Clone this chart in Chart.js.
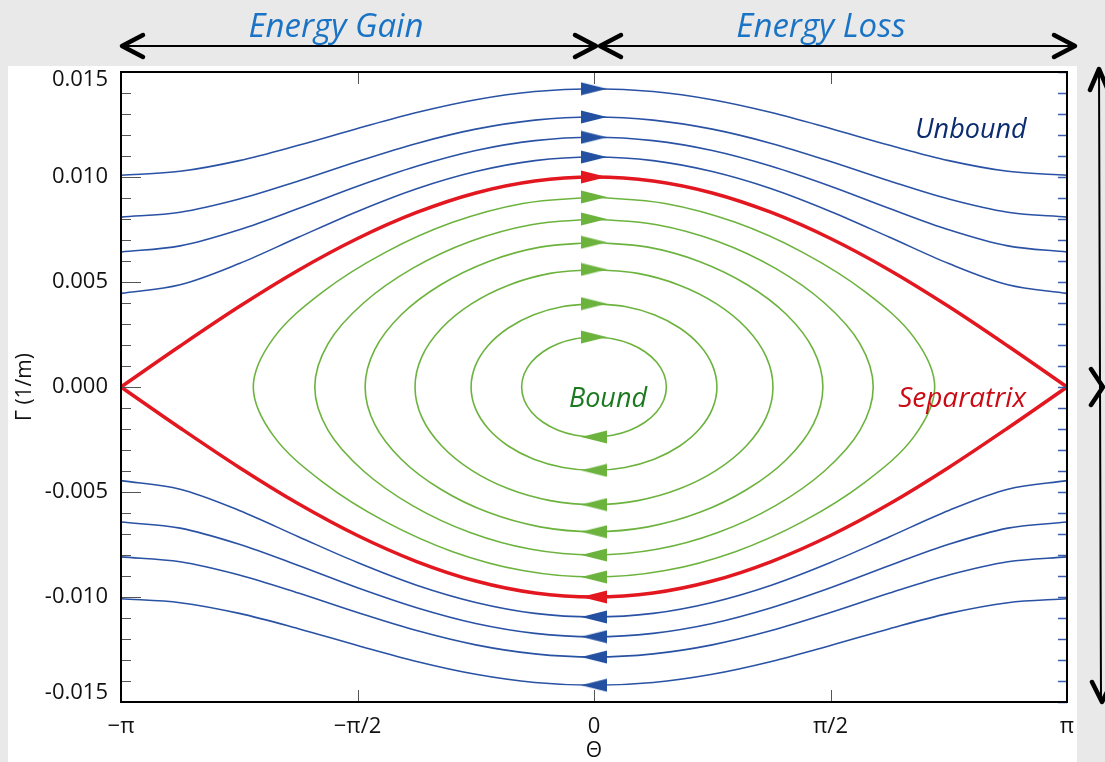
<!DOCTYPE html>
<html>
<head>
<meta charset="utf-8">
<title>Pendulum phase space</title>
<script src="https://cdn.jsdelivr.net/npm/chart.js@4.4.1/dist/chart.umd.min.js"></script>
<style>
  html, body { margin: 0; padding: 0; background: #e9e9e9; }
  #wrap { position: relative; width: 1105px; height: 762px; overflow: hidden; }
  #wrap canvas { position: absolute; left: 0; top: 0; }
  .note { position: absolute; transform: translate(-50%, -50%); font-family: 'Open Sans', sans-serif;
          font-style: italic; white-space: nowrap; line-height: 1; }
</style>
</head>
<body>
<div id="wrap">
  <canvas id="phase" width="1105" height="762"></canvas>
  <div class="note" style="left:336px;top:24px;font-size:33px;color:#1a73c4">Energy Gain</div>
  <div class="note" style="left:821px;top:24px;font-size:33px;color:#1a73c4">Energy Loss</div>
  <div class="note" style="left:971px;top:127px;font-size:27px;color:#0c2b70">Unbound</div>
  <div class="note" style="left:608px;top:396px;font-size:27px;color:#1b7a20">Bound</div>
  <div class="note" style="left:962px;top:396px;font-size:28px;color:#cc0a14">Separatrix</div>
</div>
<script>
// axis ticks (x in units of pi)
const xTickValues = [-1, -0.5, 0, 0.5, 1];
const xTickLabels = ['\u2212\u03c0', '\u2212\u03c0/2', '0', '\u03c0/2', '\u03c0'];
const yTickValues = [-0.015, -0.01, -0.005, 0, 0.005, 0.01, 0.015];
const yMinorStep = 0.001;

// unbound + separatrix curves: Gamma read at theta = 0, pi/8 ... pi (same on the -theta side)
const thetaHalf = [0, 0.125, 0.25, 0.375, 0.5, 0.625, 0.75, 0.875, 1];
const unbound = [
  [0.01420, 0.01407, 0.01368, 0.01307, 0.01231, 0.01151, 0.01078, 0.01027, 0.01008],
  [0.01286, 0.01271, 0.01228, 0.01160, 0.01074, 0.00981, 0.00895, 0.00832, 0.00809],
  [0.01189, 0.01173, 0.01126, 0.01051, 0.00956, 0.00850, 0.00749, 0.00672, 0.00643],
  [0.01095, 0.01078, 0.01026, 0.00944, 0.00836, 0.00713, 0.00588, 0.00487, 0.00446]
];
const separatrix = [0.01000, 0.00981, 0.00924, 0.00831, 0.00707, 0.00556, 0.00383, 0.00195, 0];

// bound orbits: one quarter (top -> right end) of each closed loop
const boundTheta = [
  [0, 0.1505, 0.2989, 0.4421, 0.5734, 0.6772, 0.7203],
  [0, 0.1328, 0.2620, 0.3828, 0.4873, 0.5622, 0.5903],
  [0, 0.1141, 0.2239, 0.3240, 0.4070, 0.4636, 0.4839],
  [0, 0.0926, 0.1807, 0.2592, 0.3223, 0.3639, 0.3784],
  [0, 0.0655, 0.1272, 0.1812, 0.2234, 0.2505, 0.2599],
  [0, 0.0392, 0.0759, 0.1077, 0.1322, 0.1477, 0.1530]
];
const boundGamma = [
  [0.00905, 0.00874, 0.00784, 0.00640, 0.00453, 0.00234, 0],
  [0.00800, 0.00773, 0.00693, 0.00566, 0.00400, 0.00207, 0],
  [0.00689, 0.00666, 0.00597, 0.00487, 0.00345, 0.00178, 0],
  [0.00560, 0.00541, 0.00485, 0.00396, 0.00280, 0.00145, 0],
  [0.00397, 0.00383, 0.00344, 0.00281, 0.00199, 0.00103, 0],
  [0.00238, 0.00230, 0.00206, 0.00168, 0.00119, 0.00062, 0]
];

const BLUE = '#2a52a4', RED = '#e3171f', GREEN = '#6cb33e';
const FONT = "'Open Sans', sans-serif";

// whole curve from -pi to pi out of the half profile
function fullCurve(half, sign) {
  const pts = [];
  for (let i = half.length - 1; i > 0; i--) pts.push({ x: -thetaHalf[i], y: sign * half[i] });
  for (let i = 0; i < half.length; i++) pts.push({ x: thetaHalf[i], y: sign * half[i] });
  return pts;
}
// closed loop out of the quarter, clockwise from the top
function loop(th, g) {
  const n = th.length, pts = [];
  for (let i = 0; i < n; i++) pts.push({ x: th[i], y: g[i] });
  for (let i = n - 2; i >= 0; i--) pts.push({ x: th[i], y: -g[i] });
  for (let i = 1; i < n; i++) pts.push({ x: -th[i], y: -g[i] });
  for (let i = n - 2; i >= 0; i--) pts.push({ x: -th[i], y: g[i] });
  return pts;
}
function arrowImage(color, dir) {
  const c = document.createElement('canvas');
  c.width = 26; c.height = 14;
  const g = c.getContext('2d');
  g.fillStyle = color;
  g.beginPath();
  if (dir > 0) { g.moveTo(0, 0.5); g.lineTo(26, 7); g.lineTo(0, 13.5); }
  else { g.moveTo(26, 0.5); g.lineTo(0, 7); g.lineTo(26, 13.5); }
  g.closePath();
  g.fill();
  return c;
}
function arrowSet(color, tops, order) {
  const right = arrowImage(color, 1), left = arrowImage(color, -1);
  const data = [];
  tops.forEach(v => { data.push({ x: 0, y: v }); data.push({ x: 0, y: -v }); });
  return {
    data, order, showLine: false, pointRadius: 6, pointHoverRadius: 6,
    pointStyle: ctx => (ctx.raw && ctx.raw.y < 0 ? left : right)
  };
}

const datasets = [];
unbound.forEach(half => {
  [1, -1].forEach(s => datasets.push({
    data: fullCurve(half, s), borderColor: BLUE, borderWidth: 1.6, showLine: true,
    pointRadius: 0, cubicInterpolationMode: 'monotone', order: 3
  }));
});
boundTheta.forEach((th, k) => datasets.push({
  data: loop(th, boundGamma[k]), borderColor: GREEN, borderWidth: 1.6, showLine: true,
  pointRadius: 0, tension: 0.35, order: 3
}));
[1, -1].forEach(s => datasets.push({
  data: fullCurve(separatrix, s), borderColor: RED, borderWidth: 3.5, showLine: true,
  pointRadius: 0, cubicInterpolationMode: 'monotone', order: 2
}));
datasets.push(arrowSet('#2350a0', unbound.map(h => h[0]), 1));
datasets.push(arrowSet(GREEN, boundGamma.map(g => g[0]), 1));
datasets.push(arrowSet(RED, [separatrix[0]], 0));

// open arrow head, tip at (tx,ty), arms going back by dx (horizontal arrows)
function chevron(ctx, tx, ty, dx) {
  ctx.beginPath();
  ctx.moveTo(tx + dx, ty - 11);
  ctx.lineTo(tx, ty);
  ctx.lineTo(tx + dx, ty + 11);
  ctx.stroke();
}

const decor = {
  id: 'decor',
  beforeDraw(chart) {
    const { ctx, width, height, chartArea: a, scales: { x, y } } = chart;
    ctx.save();
    ctx.fillStyle = '#e9e9e9';
    ctx.fillRect(0, 0, width, height);
    ctx.fillStyle = '#ffffff';
    ctx.fillRect(8, 66, a.right + 10 - 8, height - 66);
    // energy gain / loss arrows
    const x0 = x.getPixelForValue(0), ay = 46;
    ctx.strokeStyle = '#000';
    ctx.lineCap = 'round';
    ctx.lineJoin = 'round';
    ctx.lineWidth = 2;
    ctx.beginPath();
    ctx.moveTo(a.left, ay); ctx.lineTo(x0 + 2, ay);
    ctx.moveTo(x0 + 6, ay); ctx.lineTo(a.right + 8, ay);
    ctx.stroke();
    ctx.lineWidth = 4.5;
    chevron(ctx, a.left + 1, ay, 21);
    chevron(ctx, x0 + 2, ay, -21);
    chevron(ctx, x0 + 6, ay, 21);
    chevron(ctx, a.right + 8, ay, -21);
    // vertical arrow on the right
    const vx = 1099, ym = y.getPixelForValue(0);
    ctx.lineWidth = 2;
    ctx.beginPath();
    ctx.moveTo(vx, 68); ctx.lineTo(vx + 2, a.bottom);
    ctx.stroke();
    ctx.lineWidth = 4.5;
    ctx.beginPath();
    ctx.moveTo(vx - 9, 90); ctx.lineTo(vx, 69); ctx.lineTo(vx + 9, 90);
    ctx.moveTo(vx - 8, ym - 18); ctx.lineTo(vx + 4, ym); ctx.lineTo(vx - 8, ym + 18);
    ctx.moveTo(vx - 7, a.bottom - 20); ctx.lineTo(vx + 3, a.bottom); ctx.lineTo(vx + 13, a.bottom - 20);
    ctx.stroke();
    ctx.restore();
  },
  afterDatasetsDraw(chart) {
    const { ctx, chartArea: a, scales: { x, y } } = chart;
    ctx.save();
    const n = Math.round(0.015 / yMinorStep);
    for (let k = -n; k <= n; k++) {
      const py = Math.round(y.getPixelForValue(k * yMinorStep)) + 0.5;
      ctx.lineWidth = 1;
      ctx.strokeStyle = '#555';
      ctx.beginPath();
      ctx.moveTo(a.left, py); ctx.lineTo(a.left + (k % 5 === 0 ? 20 : 10), py);
      ctx.stroke();
      ctx.lineWidth = 1.5;
      ctx.strokeStyle = '#3a5fb0';
      ctx.beginPath();
      ctx.moveTo(a.right - 9, py); ctx.lineTo(a.right, py);
      ctx.stroke();
    }
    ctx.lineWidth = 1;
    ctx.strokeStyle = '#555';
    xTickValues.slice(1, -1).forEach(v => {
      const px = Math.round(x.getPixelForValue(v)) + 0.5;
      ctx.beginPath();
      ctx.moveTo(px, a.top); ctx.lineTo(px, a.top + 12);
      ctx.moveTo(px, a.bottom); ctx.lineTo(px, a.bottom - 12);
      ctx.stroke();
    });
    ctx.lineWidth = 2;
    ctx.strokeStyle = '#000';
    ctx.strokeRect(a.left, a.top, a.right - a.left, a.bottom - a.top);
    // y tick labels, the end ones kept inside the frame like the original
    ctx.fillStyle = '#111';
    ctx.font = '22px ' + FONT;
    ctx.textAlign = 'right';
    ctx.textBaseline = 'middle';
    yTickValues.forEach(v => {
      const py = Math.min(Math.max(y.getPixelForValue(v), a.top + 8), a.bottom - 9);
      ctx.fillText(v.toFixed(3), a.left - 13, py);
    });
    ctx.restore();
  }
};

new Chart(document.getElementById('phase'), {
  type: 'scatter',
  data: { datasets },
  options: {
    responsive: false,
    animation: false,
    devicePixelRatio: 1,
    layout: { padding: { left: 0, top: 72, right: 38, bottom: 0 } },
    plugins: { legend: { display: false }, tooltip: { enabled: false } },
    scales: {
      x: {
        type: 'linear', min: -1, max: 1,
        grid: { display: false, drawTicks: false }, border: { display: false },
        afterBuildTicks: s => { s.ticks = xTickValues.map(v => ({ value: v })); },
        afterFit: s => { s.height = 60; },
        ticks: { font: { family: FONT, size: 22 }, color: '#111', padding: 12, maxRotation: 0, autoSkip: false,
                 callback: (v, i) => xTickLabels[i] },
        title: { display: true, text: '\u0398', color: '#111',
                 font: { family: FONT, size: 21, lineHeight: 1 },
                 padding: { top: 0, bottom: 0 } }
      },
      y: {
        type: 'linear', min: -0.015, max: 0.015,
        grid: { display: false, drawTicks: false }, border: { display: false },
        afterBuildTicks: s => { s.ticks = yTickValues.map(v => ({ value: v })); },
        afterFit: s => { s.width = 121; },
        ticks: { display: false },
        title: { display: true, text: '\u0393 (1/m)', color: '#111',
                 font: { family: FONT, size: 21 },
                 padding: { top: 12, bottom: 0 } }
      }
    }
  },
  plugins: [decor]
});
</script>
</body>
</html>
